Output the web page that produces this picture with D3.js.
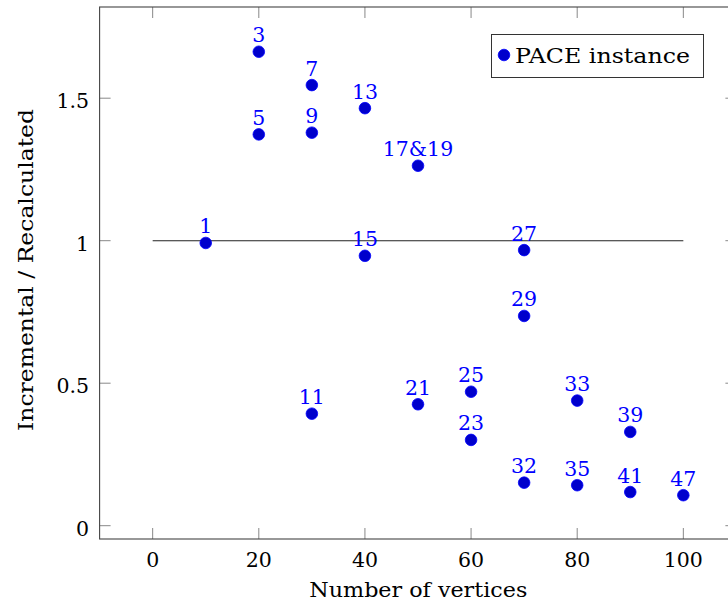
<!DOCTYPE html>
<html>
<head>
<meta charset="utf-8">
<script src="https://cdn.jsdelivr.net/npm/d3@7"></script>
<style>
  body { margin: 0; background: #fff; }
</style>
</head>
<body>
<svg id="chart"></svg>
<script>
// data
const instances = ["1", "3", "5", "7", "9", "11", "13", "15", "17&19", "21",
  "23", "25", "27", "29", "32", "33", "35", "39", "41", "47"];
const vertices = [10, 20, 20, 30, 30, 30, 40, 40, 50, 50,
  60, 60, 70, 70, 70, 80, 80, 90, 90, 100];
const ratios = [0.992, 1.663, 1.373, 1.546, 1.379, 0.393, 1.465, 0.947, 1.263, 0.426,
  0.301, 0.470, 0.967, 0.736, 0.151, 0.439, 0.142, 0.329, 0.118, 0.107];

// reference line y = 1
const refX = [0, 100];
const refY = [1, 1];

const xTicks = [0, 20, 40, 60, 80, 100];
const yTicks = [0, 0.5, 1, 1.5];
const legendLabel = "PACE instance";

// constants
const width = 728;
const height = 606;
const font = 'DejaVu Serif';
const fontSize = 20.5;
const tickLen = 11;

const svg = d3.select('#chart')
  .attr('width', width)
  .attr('height', height)
  .attr('font-family', font);

const x = d3.scaleLinear().domain([-10, 110]).range([99.6, 736.4]);
const y = d3.scaleLinear().domain([-0.0467, 1.82]).range([539, 7]);

const x0 = x.range()[0], x1 = x.range()[1];
const y0 = y.range()[0], y1 = y.range()[1];

// ticks (inside, on all four sides)
const ticks = svg.append('g').attr('stroke', '#888').attr('stroke-width', 1);
xTicks.forEach(t => {
  ticks.append('line').attr('x1', x(t)).attr('x2', x(t)).attr('y1', y0).attr('y2', y0 - tickLen);
  ticks.append('line').attr('x1', x(t)).attr('x2', x(t)).attr('y1', y1).attr('y2', y1 + tickLen);
});
yTicks.forEach(t => {
  ticks.append('line').attr('x1', x0).attr('x2', x0 + tickLen).attr('y1', y(t)).attr('y2', y(t));
  ticks.append('line').attr('x1', x1).attr('x2', x1 - tickLen).attr('y1', y(t)).attr('y2', y(t));
});

// frame
svg.append('rect')
  .attr('x', x0).attr('y', y1)
  .attr('width', x1 - x0).attr('height', y0 - y1)
  .attr('fill', 'none')
  .attr('stroke', '#444')
  .attr('stroke-width', 1.1);

// tick labels
svg.append('g').selectAll('text')
  .data(xTicks)
  .enter().append('text')
  .attr('x', d => x(d))
  .attr('y', y0 + 27.5)
  .attr('text-anchor', 'middle')
  .attr('font-size', fontSize)
  .text(d => d);

svg.append('g').selectAll('text')
  .data(yTicks)
  .enter().append('text')
  .attr('x', x0 - 10.5)
  .attr('y', d => y(d) + 10)
  .attr('text-anchor', 'end')
  .attr('font-size', fontSize)
  .text(d => d);

// axis titles
svg.append('text')
  .attr('x', 418.3)
  .attr('y', 597)
  .attr('text-anchor', 'middle')
  .attr('font-size', fontSize)
  .attr('textLength', 218)
  .attr('lengthAdjust', 'spacingAndGlyphs')
  .text('Number of vertices');

svg.append('text')
  .attr('transform', 'translate(33,270) rotate(-90)')
  .attr('text-anchor', 'middle')
  .attr('font-size', fontSize)
  .attr('textLength', 322)
  .attr('lengthAdjust', 'spacingAndGlyphs')
  .text('Incremental / Recalculated');

// reference line
svg.append('path')
  .attr('d', d3.line()(refX.map((d, i) => [x(d), y(refY[i])])))
  .attr('fill', 'none')
  .attr('stroke', '#222')
  .attr('stroke-width', 1.1);

// points
const points = instances.map((d, i) => ({ name: d, vx: vertices[i], vy: ratios[i] }));

svg.append('g').selectAll('circle')
  .data(points)
  .enter().append('circle')
  .attr('cx', d => x(d.vx))
  .attr('cy', d => y(d.vy))
  .attr('r', 5.8)
  .attr('fill', '#0000cc')
  .attr('stroke', '#0000ff')
  .attr('stroke-width', 0.8);

svg.append('g').selectAll('text')
  .data(points)
  .enter().append('text')
  .attr('x', d => x(d.vx))
  .attr('y', d => y(d.vy) - 9.5)
  .attr('text-anchor', 'middle')
  .attr('font-size', fontSize)
  .attr('fill', '#0000ff')
  .text(d => d.name);

// legend
const legend = svg.append('g');
legend.append('rect')
  .attr('x', 491.5).attr('y', 34.5)
  .attr('width', 212).attr('height', 43)
  .attr('fill', '#fff')
  .attr('stroke', '#333')
  .attr('stroke-width', 1);
legend.append('circle')
  .attr('cx', 504).attr('cy', 55)
  .attr('r', 5.8)
  .attr('fill', '#0000cc')
  .attr('stroke', '#0000ff')
  .attr('stroke-width', 0.8);
legend.append('text')
  .attr('x', 515)
  .attr('y', 63.3)
  .attr('font-size', fontSize)
  .attr('textLength', 175)
  .attr('lengthAdjust', 'spacingAndGlyphs')
  .text(legendLabel);
</script>
</body>
</html>
